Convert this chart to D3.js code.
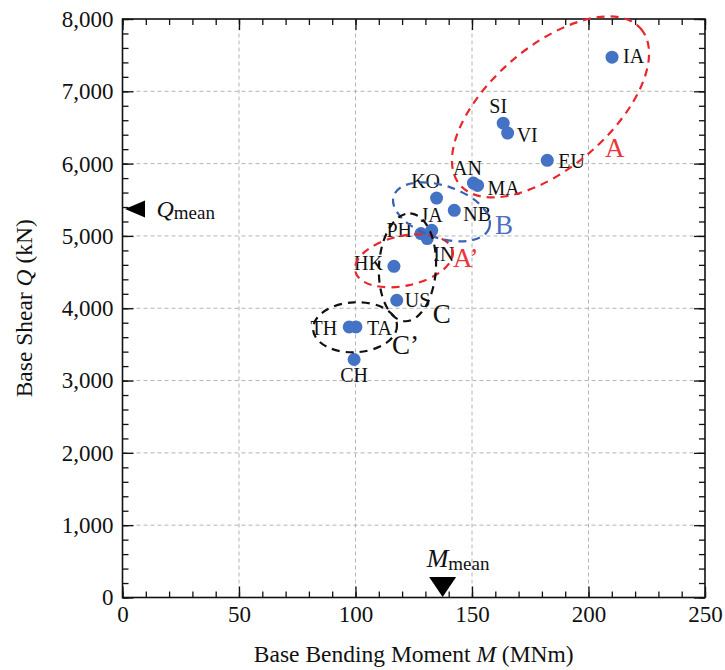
<!DOCTYPE html>
<html>
<head>
<meta charset="utf-8">
<script src="https://cdn.jsdelivr.net/npm/d3@7"></script>
<style>
  html, body { margin: 0; padding: 0; background: #fff; }
  svg { display: block; }
  text { font-family: "Liberation Serif", "Times New Roman", serif; fill: #111; }
</style>
</head>
<body>
<svg id="chart" width="725" height="670"></svg>
<script>
// ---------- data ----------
const codes  = ["IA","SI","VI","EU","AN","MA","KO","NB","JA","PH","IN","HK","US","TH","TA","CH"];
const moment = [210.1,163.4,165.3,182.3,150.6,152.4,134.8,142.4,132.7,128.1,130.8,116.5,117.7,97.3,100.2,99.4];
const shear  = [7472,6560,6422,6045,5731,5699,5524,5354,5078,5032,4963,4580,4111,3742,3742,3291];

const xTicks = [0,50,100,150,200,250];
const yTicks = [0,1000,2000,3000,4000,5000,6000,7000,8000];
const xMinor = d3.range(0, 251, 10);
const yMinor = d3.range(0, 8001, 200);

const qMean = 5374;
const mMean = 137.4;

const groupNames   = ["A","A’","B","C","C’"];
const groupCenterM = [183.7,120.8,136.9,122.3,99.8];
const groupCenterQ = [6784,4656,5333,4566,3737];
const groupLabelM  = [207.1,141.8,159.9,133.2,115.7];
const groupLabelQ  = [6086,4566,5022,3793,3364];

// ---------- layout / styles ----------
const labelLayout = {
  IA:[11,6,"start"], SI:[-5,-10,"middle"], VI:[9,9,"start"], EU:[11,8,"start"],
  AN:[-6,-8,"middle"], MA:[10,10,"start"], KO:[-11,-10,"middle"], NB:[9,11,"start"],
  JA:[0,-8,"middle"], PH:[-9,3,"end"], IN:[6,22,"start"], HK:[-11,4,"end"],
  US:[8,7,"start"], TH:[-12,8,"end"], TA:[11,8,"start"], CH:[0,22,"middle"]
};
const groupStyle = [
  {rx:119.5, ry:60.2, rot:-40.9, color:"#e8262c", text:"#e8383d"},
  {rx:49.8,  ry:24.9, rot:-12.1, color:"#e8262c", text:"#e8383d"},
  {rx:50.4,  ry:26.1, rot:18.5,  color:"#3a62b4", text:"#4a70c0"},
  {rx:54,    ry:28.5, rot:-87,   color:"#111",    text:"#111"},
  {rx:42,    ry:25,   rot:-3,    color:"#111",    text:"#111"}
];

const W = 725, H = 670;
const margin = {left:122.5, right:20, top:19, bottom:72.5};
const svg = d3.select("#chart");

const x = d3.scaleLinear().domain([0,250]).range([margin.left, W - margin.right]);
const y = d3.scaleLinear().domain([0,8000]).range([H - margin.bottom, margin.top]);

// grid
const grid = svg.append("g").attr("stroke","#b4b4b4").attr("stroke-width",1).attr("stroke-dasharray","4,3");
grid.selectAll(".gx").data(xTicks.slice(1,-1)).join("line")
  .attr("x1", d => x(d)).attr("x2", d => x(d)).attr("y1", y(0)).attr("y2", y(8000));
grid.selectAll(".gy").data(yTicks.slice(1,-1)).join("line")
  .attr("y1", d => y(d)).attr("y2", d => y(d)).attr("x1", x(0)).attr("x2", x(250));

// axes (inward ticks on all sides)
function styleAxis(g){ g.select(".domain").remove(); g.selectAll("line").attr("stroke","#111").attr("stroke-width",1.3); }
const tickFont = g => g.selectAll("text").attr("font-size",23).attr("fill","#111")
     .attr("font-family",'"Liberation Serif", serif');

svg.append("g").attr("transform",`translate(0,${y(0)})`)
  .call(d3.axisBottom(x).tickValues(xMinor).tickSize(-6).tickFormat("")).call(styleAxis);
svg.append("g").attr("transform",`translate(0,${y(0)})`)
  .call(d3.axisBottom(x).tickValues(xTicks).tickSize(-11).tickPadding(8).tickFormat(d3.format("d")))
  .call(styleAxis).call(tickFont);
svg.append("g").attr("transform",`translate(0,${y(8000)})`)
  .call(d3.axisTop(x).tickValues(xMinor).tickSize(-6).tickFormat("")).call(styleAxis);
svg.append("g").attr("transform",`translate(0,${y(8000)})`)
  .call(d3.axisTop(x).tickValues(xTicks).tickSize(-11).tickFormat("")).call(styleAxis);

svg.append("g").attr("transform",`translate(${x(0)},0)`)
  .call(d3.axisLeft(y).tickValues(yMinor).tickSize(-6).tickFormat("")).call(styleAxis);
svg.append("g").attr("transform",`translate(${x(0)},0)`)
  .call(d3.axisLeft(y).tickValues(yTicks).tickSize(-11).tickPadding(9).tickFormat(d3.format(",")))
  .call(styleAxis).call(tickFont);
svg.append("g").attr("transform",`translate(${x(250)},0)`)
  .call(d3.axisRight(y).tickValues(yMinor).tickSize(-6).tickFormat("")).call(styleAxis);
svg.append("g").attr("transform",`translate(${x(250)},0)`)
  .call(d3.axisRight(y).tickValues(yTicks).tickSize(-11).tickFormat("")).call(styleAxis);

// frame
svg.append("rect").attr("x", x(0)).attr("y", y(8000))
  .attr("width", x(250)-x(0)).attr("height", y(0)-y(8000))
  .attr("fill","none").attr("stroke","#111").attr("stroke-width",1.6);

// points
const pts = codes.map((c,i) => ({code:c, m:moment[i], q:shear[i]}));
svg.append("g").selectAll("circle").data(pts).join("circle")
  .attr("cx", d => x(d.m)).attr("cy", d => y(d.q)).attr("r", 6.5).attr("fill","#4472c4");

svg.append("g").selectAll("text").data(pts).join("text")
  .attr("x", d => x(d.m) + labelLayout[d.code][0])
  .attr("y", d => y(d.q) + labelLayout[d.code][1])
  .attr("text-anchor", d => labelLayout[d.code][2])
  .attr("font-size", 20)
  .text(d => d.code);

// group ellipses
const groups = groupNames.map((n,i) => ({name:n, cm:groupCenterM[i], cq:groupCenterQ[i], lm:groupLabelM[i], lq:groupLabelQ[i], s:groupStyle[i]}));
svg.append("g").selectAll("ellipse").data(groups).join("ellipse")
  .attr("cx", d => x(d.cm)).attr("cy", d => y(d.cq))
  .attr("rx", d => d.s.rx).attr("ry", d => d.s.ry)
  .attr("transform", d => `rotate(${d.s.rot},${x(d.cm)},${y(d.cq)})`)
  .attr("fill","none").attr("stroke", d => d.s.color)
  .attr("stroke-width",2.2).attr("stroke-dasharray","8,6");
svg.append("g").selectAll("text").data(groups).join("text")
  .attr("x", d => x(d.lm)).attr("y", d => y(d.lq))
  .attr("font-size",27).style("fill", d => d.s.text)
  .text(d => d.name);

// mean markers
const qy = y(qMean), qx = x(0);
svg.append("path")
  .attr("d", `M${qx+2.5},${qy} L${qx+22.5},${qy-8.5} L${qx+22.5},${qy+8.5} Z`)
  .attr("fill","#000");
const qt = svg.append("text").attr("x", qx+34).attr("y", qy+8);
qt.append("tspan").attr("font-style","italic").attr("font-size",24).text("Q");
qt.append("tspan").attr("font-size",19).attr("dy",2).text("mean");

const mx = x(mMean), my = y(0);
svg.append("path")
  .attr("d", `M${mx},${my-0.5} L${mx-13.5},${my-20.5} L${mx+13.5},${my-20.5} Z`)
  .attr("fill","#000");
const mt = svg.append("text").attr("x", mx-16).attr("y", my-30.5);
mt.append("tspan").attr("font-style","italic").attr("font-size",26).text("M");
mt.append("tspan").attr("font-size",19).attr("dy",3).text("mean");

// axis titles
const xt = svg.append("text").attr("x", (x(0)+x(250))/2).attr("y", 662)
  .attr("text-anchor","middle").attr("font-size",23.5);
xt.append("tspan").text("Base Bending Moment ");
xt.append("tspan").attr("font-style","italic").text("M");
xt.append("tspan").text(" (MNm)");

const yt = svg.append("text")
  .attr("transform", `translate(32,${(y(0)+y(8000))/2}) rotate(-90)`)
  .attr("text-anchor","middle").attr("font-size",23.5);
yt.append("tspan").text("Base Shear ");
yt.append("tspan").attr("font-style","italic").text("Q");
yt.append("tspan").text(" (kN)");
</script>
</body>
</html>
